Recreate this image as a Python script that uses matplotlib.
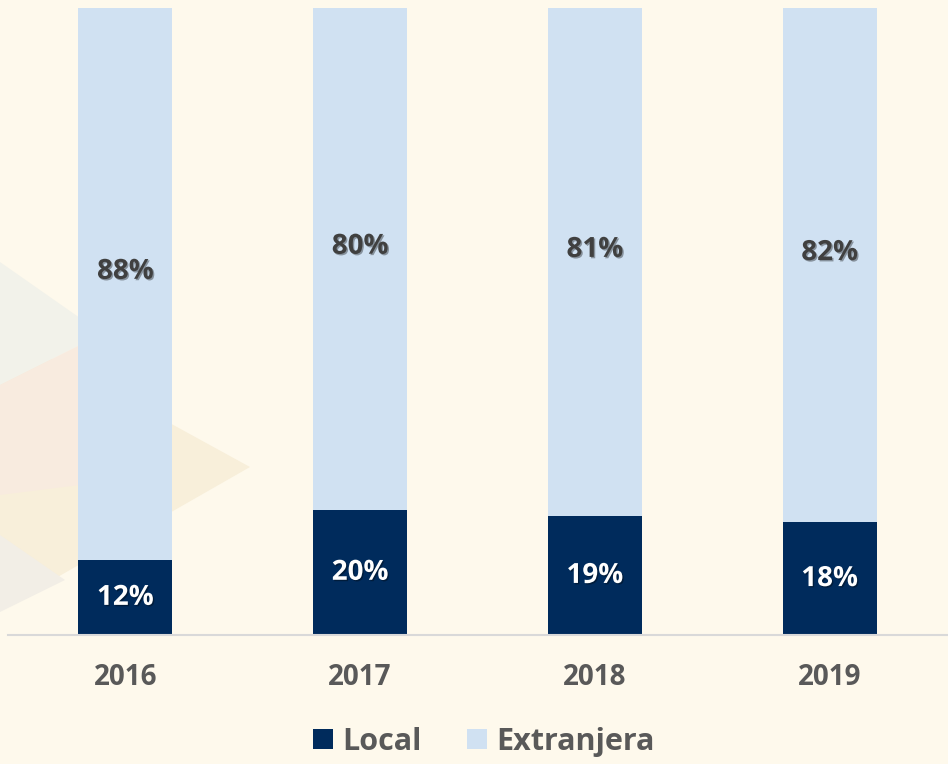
import matplotlib.pyplot as plt
import matplotlib.patheffects as pe
from matplotlib.patches import Polygon
import numpy as np

years = ['2016', '2017', '2018', '2019']
local = [12, 20, 19, 18]
extranjera = [88, 80, 81, 82]

bg = '#FEF9EC'
navy = '#002B5C'
light = '#D0E1F2'
txt = '#595959'

plt.rcParams['font.family'] = ['Open Sans', 'DejaVu Sans']

fig = plt.figure(figsize=(9.48, 7.64), dpi=100, facecolor=bg)

# faint decorative shapes on the left of the background
W, H = 948, 764
def px(pts):
    return [(x / W, 1 - y / H) for x, y in pts]
shapes = [
    ([(0, 330), (250, 467), (0, 610)], '#F8EFDA'),
    ([(0, 262), (80, 318), (80, 345), (0, 385)], '#F2F2EA'),
    ([(0, 385), (80, 345), (80, 485), (0, 495)], '#F8EBDF'),
    ([(0, 535), (65, 580), (0, 612)], '#F2EEE6'),
]
for pts, c in shapes:
    fig.patches.append(Polygon(px(pts), closed=True, transform=fig.transFigure,
                               facecolor=c, edgecolor='none', zorder=0))

ax = fig.add_axes([8 / W, (H - 635) / H, 939 / W, 627 / H])
ax.set_facecolor('none')
ax.set_zorder(2)

x = np.arange(len(years))
w = 0.40
ax.bar(x, local, width=w, color=navy, label='Local', zorder=2)
ax.bar(x, extranjera, width=w, bottom=local, color=light, label='Extranjera', zorder=2)

shadow = [pe.SimplePatchShadow(offset=(1, -1), alpha=0.35, shadow_rgbFace='#000000'), pe.Normal()]
for i in range(len(years)):
    ax.text(x[i], local[i] / 2, f'{local[i]}%', ha='center', va='center',
            color='white', fontsize=20, fontweight='bold', path_effects=shadow, zorder=3)
    ax.text(x[i], local[i] + extranjera[i] / 2 + 2, f'{extranjera[i]}%', ha='center', va='center',
            color='#404040', fontsize=20, fontweight='bold', path_effects=shadow, zorder=3)

ax.set_xlim(-0.5, 3.5)
ax.set_ylim(0, 100)
ax.set_yticks([])
ax.set_xticks(x)
ax.set_xticklabels(years, fontsize=20, fontweight='bold', color=txt)
ax.tick_params(axis='x', length=0, pad=20)
for s in ['top', 'right', 'left']:
    ax.spines[s].set_visible(False)
ax.spines['bottom'].set_color('#D9D9D9')
ax.spines['bottom'].set_linewidth(1.5)

leg = fig.legend(loc='center', bbox_to_anchor=(484 / W, 1 - 742 / H), ncol=2, frameon=False,
                 prop={'size': 22, 'weight': 'bold'}, handlelength=0.65, handleheight=0.65,
                 handletextpad=0.3, columnspacing=1.5)
for t in leg.get_texts():
    t.set_color(txt)

fig.savefig('out.png', dpi=100, facecolor=bg)
